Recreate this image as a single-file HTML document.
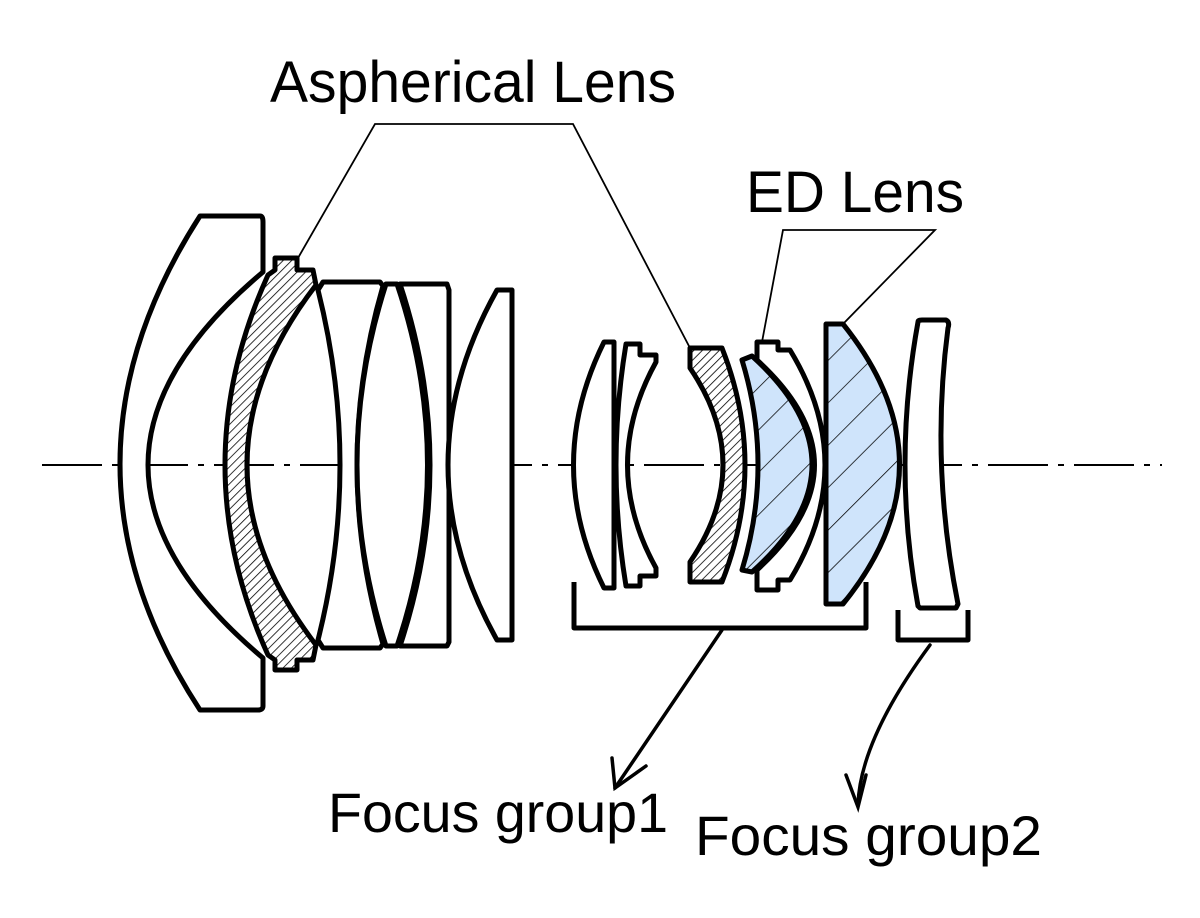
<!DOCTYPE html>
<html><head><meta charset="utf-8"><style>html,body{margin:0;padding:0;background:#fff}svg{display:block}</style></head><body>
<svg width="1200" height="918" viewBox="0 0 1200 918" xmlns="http://www.w3.org/2000/svg">
<defs>
<pattern id="h1" patternUnits="userSpaceOnUse" width="6" height="6" patternTransform="rotate(45)"><rect width="6" height="6" fill="#fff"/><line x1="0" y1="0" x2="0" y2="6" stroke="#000" stroke-width="1.6"/></pattern>
<pattern id="h2" patternUnits="userSpaceOnUse" width="30" height="30" patternTransform="rotate(45)"><rect width="30" height="30" fill="#cfe4fb"/><line x1="0" y1="0" x2="0" y2="30" stroke="#000" stroke-width="1.5"/></pattern>
</defs>
<g font-family="Liberation Sans, sans-serif" fill="#000">
<text x="270" y="102" font-size="58" textLength="406" lengthAdjust="spacingAndGlyphs">Aspherical Lens</text>
<text x="746" y="212" font-size="58" textLength="218" lengthAdjust="spacingAndGlyphs">ED Lens</text>
<text x="328" y="832" font-size="56" textLength="340" lengthAdjust="spacingAndGlyphs">Focus group1</text>
<text x="695" y="855" font-size="56" textLength="347" lengthAdjust="spacingAndGlyphs">Focus group2</text>
</g>
<g fill="none" stroke="#000" stroke-width="1.8">
<polyline points="298,258 375,124 573,124 690,348"/>
<polyline points="762,342 783,230 935,230 843,324"/>
</g>
<line x1="42" y1="465" x2="1162" y2="465" stroke="#000" stroke-width="2" stroke-dasharray="60,10,6,10"/>
<g stroke="#000" stroke-width="5" stroke-linejoin="round" fill="none">
<path d="M200,216 H260 Q263,216 263,222 V272 Q33,465 263,658 V706 Q263,710 258,710 H200 Q40,465 200,216 Z" fill="#fff"/>
<path d="M268,275 L275,270 V258 H297 V270 H313 L316,285 Q178,465 316,645 L313,660 H297 V670 H275 V660 L268,655 Q182,465 268,275 Z" fill="url(#h1)"/>
<path d="M318,290 L323,282 H380 L383,286 Q331,465 383,644 L380,648 H323 L318,640 Q362,465 318,290 Z" fill="#fff"/>
<path d="M386,284 H397 Q458,465 397,646 H386 Q328,465 386,284 Z" fill="#fff"/>
<path d="M400,284 H447 L449,290 V642 L447,646 H400 Q460,465 400,284 Z" fill="#fff"/>
<path d="M497,290 H512 V640 H497 Q399,465 497,290 Z" fill="#fff"/>
<path d="M604,342 H614 V588 H604 Q543,465 604,342 Z" fill="#fff"/>
<path d="M626,344 H640 V355 H656 V362 Q599,465 656,568 V576 H640 V586 H626 Q606,465 626,344 Z" fill="#fff"/>
<path d="M690,348 H722 Q768,465 722,582 H690 V562 Q756,465 690,368 Z" fill="url(#h1)"/>
<path d="M757,342 H778 V350 H790 Q860,465 790,580 H778 V590 H757 V570 Q872,465 757,360 Z" fill="#fff"/>
<path d="M742,360 L752,356 Q872,465 752,572 L742,570 Q774,465 742,360 Z" fill="url(#h2)"/>
<path d="M826,324 H843 Q956,465 843,604 H826 Z" fill="url(#h2)"/>
<path d="M918,322 Q918,320 922,320 H946 Q950,322 948,328 Q930,465 958,604 L956,608 H920 L918,606 Q892,465 918,322 Z" fill="#fff"/>
<polyline points="574,582 574,628 866,628 866,582"/>
<polyline points="898,610 898,640 968,640 968,610"/>
</g>
<g stroke="#000" stroke-width="3.5" fill="none" stroke-linecap="round">
<line x1="722" y1="630" x2="615" y2="788"/>
<polyline points="612,758 615,788 646,766"/>
<path d="M930,645 Q860,740 858,805"/>
<polyline points="846,775 858,807 866,775"/>
</g>
</svg>
</body></html>
